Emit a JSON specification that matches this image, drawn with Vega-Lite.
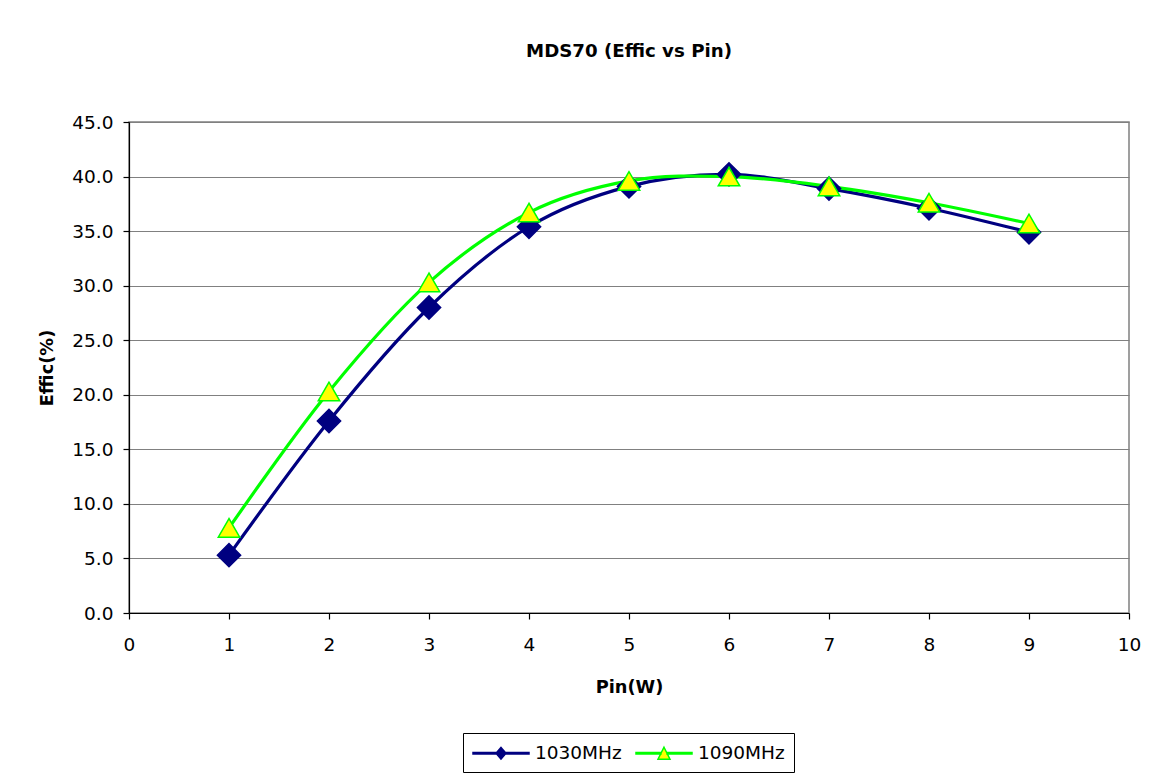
{
  "$schema": "https://vega.github.io/schema/vega-lite/v6.json",
  "autosize": {"type": "none"},
  "width": 1000,
  "height": 491,
  "padding": {"left": 129, "top": 122, "right": 34, "bottom": 168},
  "background": "white",
  "title": {
    "text": "MDS70 (Effic vs Pin)",
    "font": "DejaVu Sans",
    "fontSize": 18.2,
    "fontWeight": "bold",
    "color": "#000000",
    "anchor": "middle",
    "frame": "group",
    "baseline": "alphabetic",
    "offset": 38
  },
  "data": {
    "values": [
      {"pin": 1, "effic": 5.3, "series": "1030MHz"},
      {"pin": 2, "effic": 17.6, "series": "1030MHz"},
      {"pin": 3, "effic": 28.0, "series": "1030MHz"},
      {"pin": 4, "effic": 35.4, "series": "1030MHz"},
      {"pin": 5, "effic": 39.1, "series": "1030MHz"},
      {"pin": 6, "effic": 40.2, "series": "1030MHz"},
      {"pin": 7, "effic": 38.9, "series": "1030MHz"},
      {"pin": 8, "effic": 37.1, "series": "1030MHz"},
      {"pin": 9, "effic": 34.9, "series": "1030MHz"},
      {"pin": 1, "effic": 7.8, "series": "1090MHz"},
      {"pin": 2, "effic": 20.3, "series": "1090MHz"},
      {"pin": 3, "effic": 30.3, "series": "1090MHz"},
      {"pin": 4, "effic": 36.7, "series": "1090MHz"},
      {"pin": 5, "effic": 39.6, "series": "1090MHz"},
      {"pin": 6, "effic": 40.0, "series": "1090MHz"},
      {"pin": 7, "effic": 39.1, "series": "1090MHz"},
      {"pin": 8, "effic": 37.6, "series": "1090MHz"},
      {"pin": 9, "effic": 35.7, "series": "1090MHz"}
    ]
  },
  "encoding": {
    "x": {
      "field": "pin",
      "type": "quantitative",
      "scale": {"domain": [0, 10], "nice": false, "zero": false},
      "axis": {
        "title": "Pin(W)",
        "values": [0, 1, 2, 3, 4, 5, 6, 7, 8, 9, 10],
        "format": "d",
        "grid": false,
        "tickSize": 6,
        "labelPadding": 16,
        "titlePadding": 25
      }
    },
    "y": {
      "field": "effic",
      "type": "quantitative",
      "scale": {"domain": [0, 45], "nice": false},
      "axis": {
        "title": "Effic(%)",
        "values": [0, 5, 10, 15, 20, 25, 30, 35, 40, 45],
        "format": ".1f",
        "grid": true,
        "gridColor": "#808080",
        "gridWidth": 1.2,
        "gridOpacity": 1,
        "tickSize": 6,
        "labelPadding": 10,
        "titlePadding": 15
      }
    }
  },
  "layer": [
    {
      "mark": {"type": "line", "interpolate": "cardinal", "strokeWidth": 3.2},
      "encoding": {
        "color": {
          "field": "series",
          "type": "nominal",
          "scale": {"domain": ["1030MHz", "1090MHz"], "range": ["#000080", "#00FF00"]},
          "legend": null
        }
      }
    },
    {
      "mark": {"type": "point", "filled": false, "opacity": 1, "strokeWidth": 1.5},
      "encoding": {
        "shape": {
          "field": "series",
          "type": "nominal",
          "scale": {"domain": ["1030MHz", "1090MHz"], "range": ["diamond", "triangle-up"]},
          "legend": null
        },
        "fill": {
          "field": "series",
          "type": "nominal",
          "scale": {"domain": ["1030MHz", "1090MHz"], "range": ["#000080", "#FFFF00"]},
          "legend": null
        },
        "stroke": {
          "field": "series",
          "type": "nominal",
          "scale": {"domain": ["1030MHz", "1090MHz"], "range": ["#000080", "#00FF00"]},
          "legend": null
        },
        "size": {
          "field": "series",
          "type": "nominal",
          "scale": {"domain": ["1030MHz", "1090MHz"], "range": [540, 460]},
          "legend": null
        }
      }
    },
    {
      "mark": {"type": "point", "filled": true, "opacity": 0, "size": 400, "strokeWidth": 1.5},
      "encoding": {
        "shape": {
          "field": "series",
          "type": "nominal",
          "scale": {"domain": ["1030MHz", "1090MHz"], "range": ["M-1,-0.075H4.6V0.075H-1Z M1.8,-0.58L2.3,0L1.8,0.58L1.3,0Z", "M-1,-0.075H1.5V0.075H-1Z M2.1,-0.075H4.6V0.075H2.1Z M1.8,-0.6L2.4,0.6L1.2,0.6Z"]},
          "legend": {
            "title": null,
            "orient": "none",
            "legendX": 334,
            "legendY": 611,
            "direction": "horizontal",
            "strokeColor": "#000000",
            "fillColor": "#FFFFFF",
            "padding": 9,
            "symbolSize": 400,
            "symbolOpacity": 1,
            "symbolStrokeWidth": 1.5,
            "labelOffset": 41,
            "columnPadding": 11,
            "labelFont": "DejaVu Sans",
            "labelFontSize": 18.5,
            "labelColor": "#000000"
          }
        },
        "fill": {
          "field": "series",
          "type": "nominal",
          "scale": {"domain": ["1030MHz", "1090MHz"], "range": ["#000080", "#FFFF00"]}
        },
        "stroke": {
          "field": "series",
          "type": "nominal",
          "scale": {"domain": ["1030MHz", "1090MHz"], "range": ["#000080", "#00FF00"]}
        }
      }
    }
  ],
  "resolve": {"scale": {"shape": "independent", "fill": "independent", "stroke": "independent", "size": "independent"}},
  "config": {
    "view": {"stroke": "#808080", "strokeWidth": 1.5},
    "axis": {
      "domainColor": "#000000",
      "domainWidth": 1.2,
      "tickColor": "#000000",
      "tickWidth": 1.2,
      "labelFont": "DejaVu Sans",
      "labelFontSize": 18.5,
      "labelColor": "#000000",
      "titleFont": "DejaVu Sans",
      "titleFontSize": 17.8,
      "titleFontWeight": "bold",
      "titleColor": "#000000",
      "labelFlush": false,
      "labelOverlap": false
    }
  }
}
